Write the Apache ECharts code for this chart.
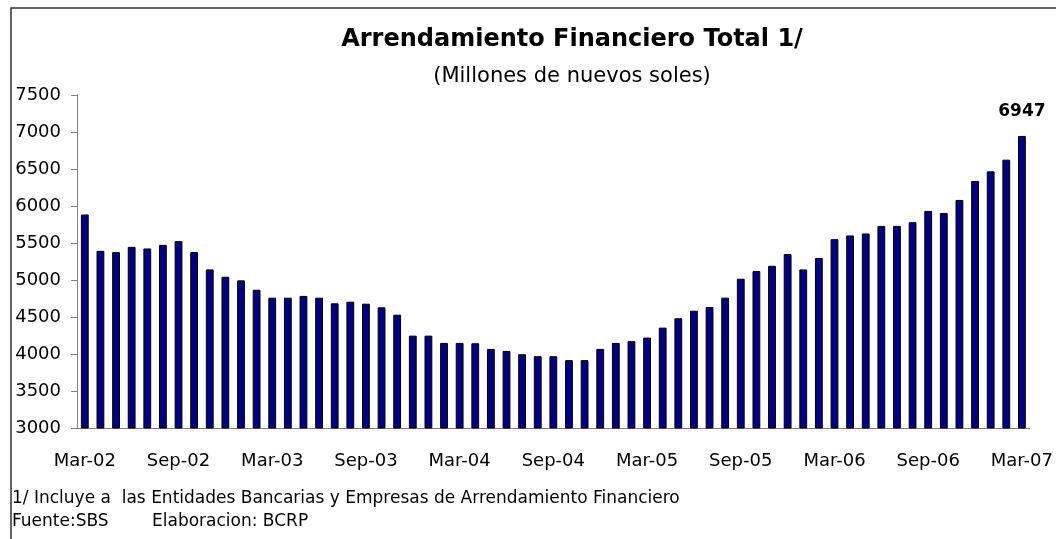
<!DOCTYPE html>
<html>
<head>
<meta charset="utf-8">
<script src="https://cdn.jsdelivr.net/npm/echarts@6/dist/echarts.min.js"></script>
<style>
  html, body { margin: 0; padding: 0; background: #fff; }
  #chart { width: 1056px; height: 539px; }
</style>
</head>
<body>
<div id="chart"></div>
<script>
// Arrendamiento financiero, saldo mensual Mar-02 .. Mar-07 (millones S/.)
const monthNames = ['Mar', 'Abr', 'May', 'Jun', 'Jul', 'Ago', 'Sep', 'Oct', 'Nov', 'Dic', 'Ene', 'Feb'];
const startYear = 2;
const values = [
  5885, 5394, 5377, 5448, 5426, 5475, 5525, 5377, 5143, 5044,
  4995, 4868, 4761, 4761, 4785, 4761, 4685, 4707, 4680, 4631,
  4531, 4248, 4248, 4150, 4150, 4145, 4069, 4042, 3997, 3970,
  3970, 3917, 3917, 4069, 4150, 4173, 4222, 4356, 4483, 4585,
  4635, 4761, 5017, 5120, 5192, 5350, 5143, 5296, 5552, 5602,
  5629, 5731, 5731, 5781, 5933, 5906, 6082, 6338, 6468, 6626,
  6947
];
const yTicks = { min: 3000, max: 7500, step: 500 };
const title = 'Arrendamiento Financiero Total 1/';
const subtitle = '(Millones de nuevos soles)';
const note = '1/ Incluye a  las Entidades Bancarias y Empresas de Arrendamiento Financiero';
const source = 'Fuente:SBS';
const credit = 'Elaboracion: BCRP';

// category labels: month-year, year rolls over at "Ene"
const categories = [];
let yr = startYear;
for (let i = 0; i < values.length; i++) {
  const m = monthNames[i % 12];
  if (m === 'Ene') yr++;
  categories.push(m + '-' + String(yr).padStart(2, '0'));
}

const font = 'DejaVu Sans';
const chart = echarts.init(document.getElementById('chart'));

const barData = values.map((v, i) => {
  if (i === values.length - 1) {
    return {
      value: v,
      label: {
        show: true, position: 'top', distance: 16,
        fontFamily: font, fontWeight: 'bold', fontSize: 17, color: '#000'
      }
    };
  }
  return v;
});

chart.setOption({
  backgroundColor: '#fff',
  animation: false,
  title: [
    {
      text: title, left: 567, top: 23, textAlign: 'center',
      textStyle: { fontFamily: font, fontWeight: 'bold', fontSize: 24, color: '#000' }
    },
    {
      text: subtitle, left: 567, top: 61, textAlign: 'center',
      textStyle: { fontFamily: font, fontWeight: 'normal', fontSize: 21, color: '#000' }
    }
  ],
  grid: { left: 77, right: 25, top: 95, bottom: 111, containLabel: false },
  xAxis: {
    type: 'category',
    data: categories,
    boundaryGap: true,
    axisLine: { lineStyle: { color: '#808080', width: 1 } },
    axisTick: { interval: 5, length: 6, lineStyle: { color: '#808080' } },
    axisLabel: {
      interval: 5, margin: 24,
      fontFamily: font, fontSize: 18, color: '#000'
    }
  },
  yAxis: {
    type: 'value',
    min: yTicks.min, max: yTicks.max, interval: yTicks.step,
    axisLine: { show: true, lineStyle: { color: '#808080', width: 1 } },
    axisTick: { show: true, length: 6, lineStyle: { color: '#808080' } },
    splitLine: { show: false },
    axisLabel: {
      margin: 16, fontFamily: font, fontSize: 18, color: '#000',
      formatter: v => String(v)
    }
  },
  series: [{
    type: 'bar',
    data: barData,
    barWidth: '50%',
    itemStyle: { color: '#000080', borderColor: '#000', borderWidth: 1 }
  }],
  graphic: [
    {
      type: 'rect', silent: true,
      shape: { x: 11, y: 8, width: 1100, height: 600 },
      style: { fill: 'none', stroke: '#333', lineWidth: 1.5 }
    },
    {
      type: 'text', left: 12, top: 490,
      style: { text: note, fontFamily: font, fontSize: 17, fill: '#000' }
    },
    {
      type: 'text', left: 12, top: 513,
      style: { text: source, fontFamily: font, fontSize: 17, fill: '#000' }
    },
    {
      type: 'text', left: 152, top: 513,
      style: { text: credit, fontFamily: font, fontSize: 17, fill: '#000' }
    }
  ]
});

window.addEventListener('resize', () => chart.resize());
</script>
</body>
</html>
